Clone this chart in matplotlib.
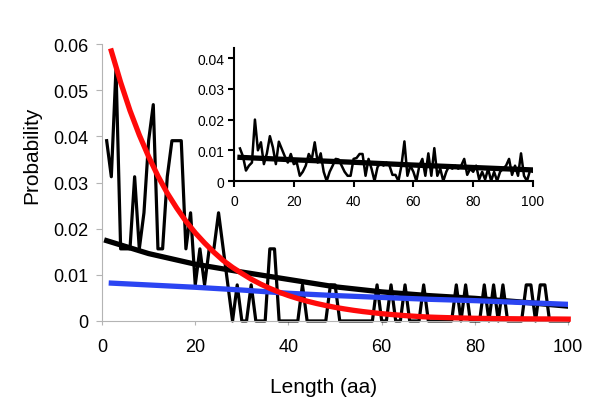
"""
Length distribution: observed probabilities with fitted curves, plus inset
"""

import matplotlib
matplotlib.use("Agg")
from matplotlib import pyplot as plt

plt.rcParams['font.family'] = ['Liberation Sans', 'DejaVu Sans']

# observed probabilities (counts out of 128) for lengths 1..100
length = list(range(1, 101))
counts = [5, 4, 7, 2, 2, 2, 4, 2, 3, 5,
          6, 2, 2, 4, 5, 5, 5, 2, 3, 1,
          2, 1, 2, 2, 3, 2, 1, 0, 1, 0,
          0, 1, 0, 0, 0, 2, 2, 0, 0, 0,
          0, 0, 1, 0, 0, 0, 0, 0, 1, 1,
          0, 0, 0, 0, 0, 0, 0, 0, 1, 0,
          0, 1, 0, 0, 1, 0, 0, 0, 1, 0,
          0, 0, 0, 0, 0, 1, 0, 1, 0, 0,
          0, 1, 0, 1, 0, 1, 0, 0, 0, 0,
          1, 1, 0, 1, 1, 0, 0, 0, 0, 0]
observed = [c / 128 for c in counts]

# red model curve
red_x = list(range(2, 101, 2))
red_y = [58.5, 51.7, 45.6, 40.3, 35.6, 31.4, 27.7, 24.5, 21.6, 19.1,
         16.9, 14.9, 13.1, 11.6, 10.3, 9.06, 8.0, 7.06, 6.23, 5.5,
         4.86, 4.29, 3.79, 3.35, 2.95, 2.61, 2.3, 2.03, 1.8, 1.58,
         1.4, 1.24, 1.09, 0.96, 0.85, 0.78, 0.72, 0.67, 0.62, 0.58,
         0.55, 0.52, 0.5, 0.48, 0.46, 0.45, 0.44, 0.43, 0.42, 0.4]
red_y = [v / 1000 for v in red_y]

# blue model curve
blue_x = [2, 10, 20, 30, 40, 50, 60, 70, 80, 90, 100]
blue_y = [8.2, 7.8, 7.3, 6.7, 6.0, 5.5, 5.1, 4.7, 4.4, 4.0, 3.6]
blue_y = [v / 1000 for v in blue_y]

# black trend line
trend_x = [1, 10, 20, 30, 40, 50, 60, 70, 80, 90, 100]
trend_y = [17.4, 14.6, 12.3, 10.6, 9.0, 7.4, 6.3, 5.5, 4.9, 4.1, 3.2]
trend_y = [v / 1000 for v in trend_y]

# inset: observed values for lengths 2..100 and its trend
inset_x = list(range(2, 101))
inset_y = [10.6, 8, 3.4, 5, 6, 20, 10, 12.6, 5.5, 9,
           14.6, 11, 5.5, 12.8, 10.4, 8, 6, 8.8, 5.5, 6,
           1.7, 3, 5, 8.8, 7, 12.6, 6, 9, 3, 0,
           3, 5, 7.2, 7, 5, 3, 1.7, 1.7, 7.2, 7.5,
           8.8, 8.8, 1.7, 7.2, 4, 0, 4.5, 6, 5, 6,
           5, 2, 2, 0, 5, 12.9, 1.7, 5, 3, 0,
           5, 7.2, 1.7, 9, 1.7, 10.7, 1.7, 4, 0, 3,
           5, 4, 5, 4, 5, 7.2, 2, 4, 3, 5,
           0.5, 3, 0.5, 4, 0, 3, 0, 3, 4, 5,
           7.2, 2, 5, 1.7, 9, 1.7, 0, 3.4, 3]
inset_y = [v / 1000 for v in inset_y]
inset_trend_x = [2, 20, 40, 60, 80, 100]
inset_trend_y = [7.7, 6.9, 6.1, 5.2, 4.4, 3.6]
inset_trend_y = [v / 1000 for v in inset_trend_y]

fig = plt.figure(figsize=(6, 4.06), dpi=100)

ax = fig.add_axes([0.17, 0.207, 0.777, 0.682])
ax.plot(length, observed, color='black', lw=2.3, clip_on=False, zorder=2)
ax.plot(trend_x, trend_y, color='black', lw=3.8, zorder=3)
ax.plot(blue_x, blue_y, color='#2b45f2', lw=3.8, zorder=4)
ax.plot(red_x, red_y, color='#ff0a0a', lw=3.8, zorder=5, clip_on=False)

ax.set_xlim(0, 100)
ax.set_ylim(0, 0.06)
ax.set_xticks([0, 20, 40, 60, 80, 100])
ax.set_yticks([0, 0.01, 0.02, 0.03, 0.04, 0.05, 0.06])
ax.set_yticklabels(['0', '0.01', '0.02', '0.03', '0.04', '0.05', '0.06'])
for side in ['top', 'right']:
    ax.spines[side].set_visible(False)
for side in ['left', 'bottom']:
    ax.spines[side].set_color('#b4b4b4')
    ax.spines[side].set_linewidth(0.8)
ax.tick_params(axis='y', colors='#b4b4b4', labelcolor='black', length=4.5,
               width=0.8, pad=5, labelsize=13)
ax.tick_params(axis='x', colors='#b4b4b4', labelcolor='black', length=3,
               width=0.8, pad=9, labelsize=13)

fig.text(324 / 600, 1 - 388 / 406, "Length (aa)", fontsize=15,
         ha='center', va='center')
fig.text(32 / 600, 1 - 155 / 406, "Probability", fontsize=15,
         ha='center', va='center', rotation=90)

# inset
ins = fig.add_axes([0.39, 0.5517, 0.4983, 0.3276])
ins.patch.set_alpha(0)
ins.plot(inset_x, inset_y, color='black', lw=1.8, zorder=2)
ins.plot(inset_trend_x, inset_trend_y, color='black', lw=3.8, zorder=3)
ins.set_xlim(0, 100)
ins.set_ylim(0, 0.0433)
ins.set_xticks([0, 20, 40, 60, 80, 100])
ins.set_yticks([0, 0.01, 0.02, 0.03, 0.04])
ins.set_yticklabels(['0', '0.01', '0.02', '0.03', '0.04'])
for side in ['top', 'right']:
    ins.spines[side].set_visible(False)
for side in ['left', 'bottom']:
    ins.spines[side].set_linewidth(1.5)
ins.tick_params(axis='y', length=4, width=1.5, pad=3, labelsize=10)
ins.tick_params(axis='x', length=4, width=1.5, pad=5, labelsize=10)

fig.savefig("out.png", dpi=100)
